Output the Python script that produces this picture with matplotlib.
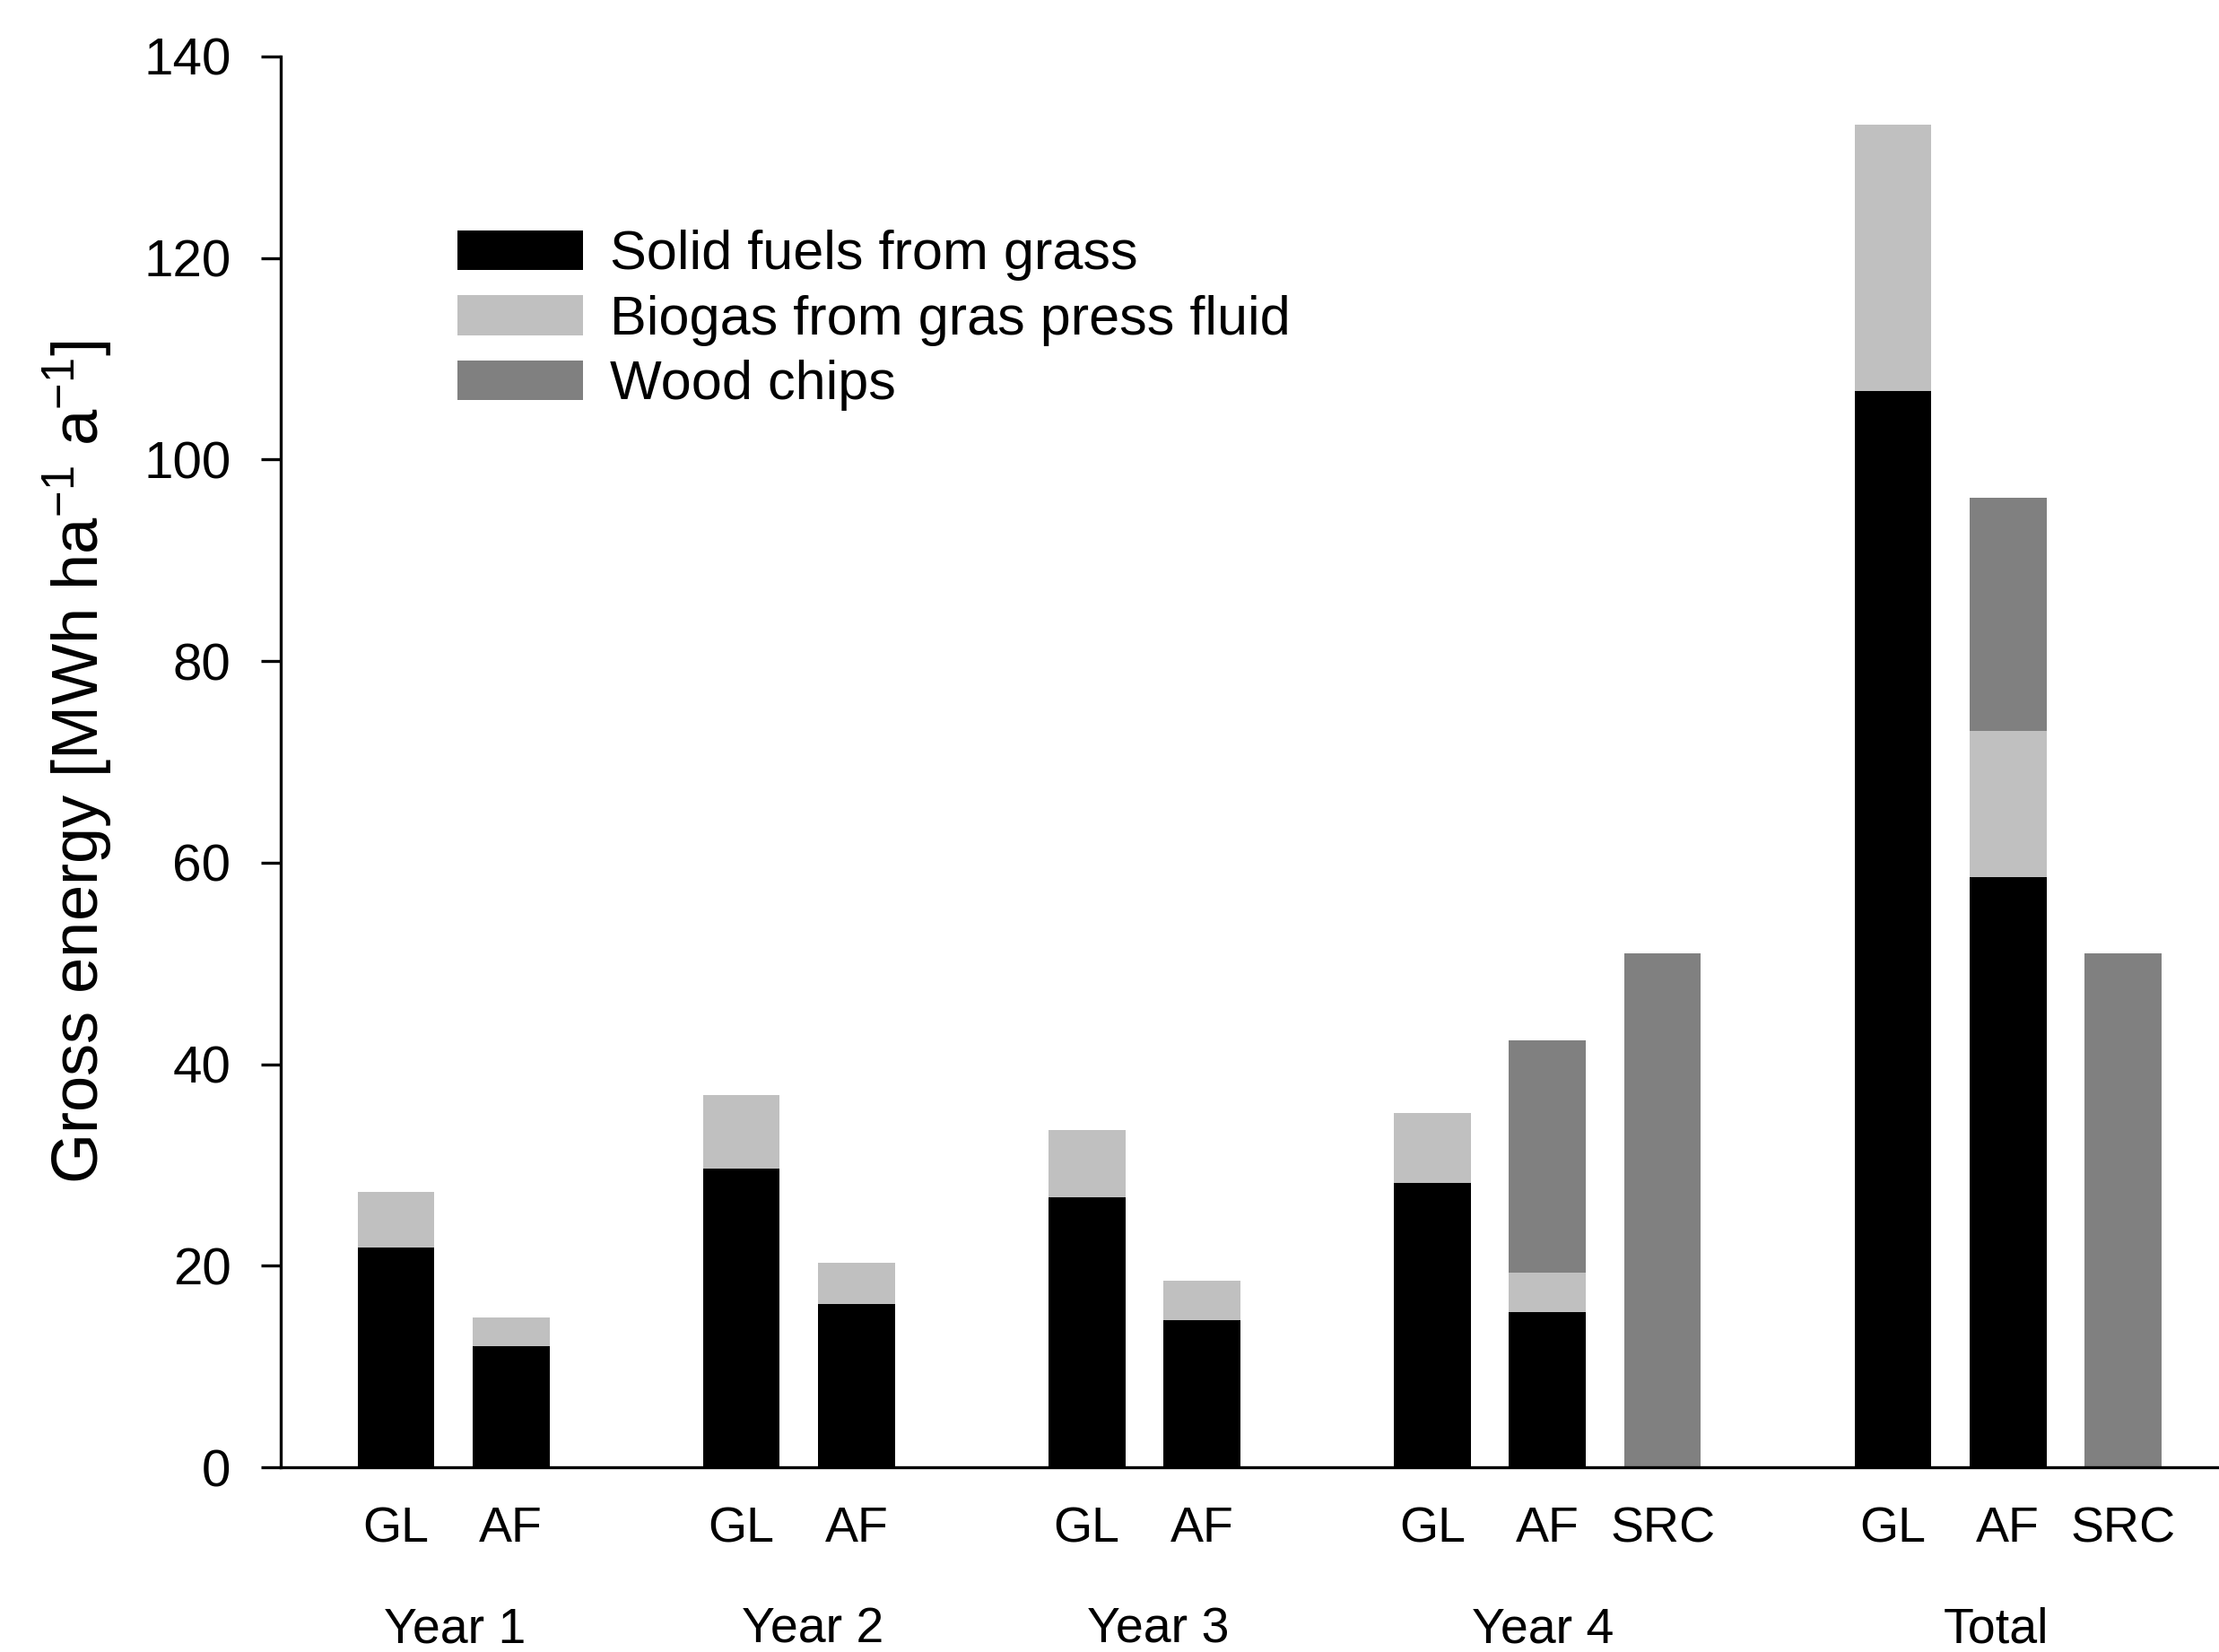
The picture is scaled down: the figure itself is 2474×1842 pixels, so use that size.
import numpy as np
import matplotlib
matplotlib.use("Agg")
import matplotlib.pyplot as plt

plt.rcParams['font.family'] = ['Liberation Sans', 'DejaVu Sans']
plt.rcParams['mathtext.fontset'] = 'custom'
plt.rcParams['mathtext.rm'] = 'Liberation Sans'
plt.rcParams['mathtext.it'] = 'Liberation Sans'

# bar positions and labels
x_pos = [0, 1, 3, 4, 6, 7, 9, 10, 11, 13, 14, 15]
bar_labels = ['GL', 'AF', 'GL', 'AF', 'GL', 'AF', 'GL', 'AF', 'SRC', 'GL', 'AF', 'SRC']
groups = ['Year 1', 'Year 2', 'Year 3', 'Year 4', 'Total']
group_pos = [0.51, 3.62, 6.62, 9.96, 13.90]

# values (MWh ha-1 a-1)
solid = [21.8, 12.0, 29.6, 16.2, 26.8, 14.6, 28.2, 15.4, 0.0, 106.8, 58.6, 0.0]
biogas = [5.5, 2.9, 7.3, 4.1, 6.7, 3.9, 7.0, 3.9, 0.0, 26.4, 14.5, 0.0]
wood = [0.0, 0.0, 0.0, 0.0, 0.0, 0.0, 0.0, 23.1, 51.0, 0.0, 23.1, 51.0]

series_names = ['Solid fuels from grass', 'Biogas from gras press fluid', 'Wood chips']
colors = ['#000000', '#c0c0c0', '#808080']

fig = plt.figure(figsize=(24.74, 18.42), dpi=100)
ax = fig.add_axes([0.1265, 0.1118, 0.876, 0.854])

solid = np.array(solid)
biogas = np.array(biogas)
wood = np.array(wood)
w = 0.667
b1 = ax.bar(x_pos, solid, w, color=colors[0], linewidth=0, label=series_names[0])
b2 = ax.bar(x_pos, biogas, w, bottom=solid, color=colors[1], linewidth=0, label=series_names[1])
b3 = ax.bar(x_pos, wood, w, bottom=solid + biogas, color=colors[2], linewidth=0, label=series_names[2])

ax.set_xlim(-1, 15.88)
ax.set_ylim(0, 140)
ax.set_yticks(np.arange(0, 141, 20))
ax.set_xticks([])
ax.spines['top'].set_visible(False)
ax.spines['right'].set_visible(False)
ax.spines['left'].set_linewidth(2.4)
ax.spines['bottom'].set_linewidth(2.4)
ax.tick_params(axis='y', direction='out', length=16, width=2.4, pad=24, labelsize=42)

ax.set_ylabel('Gross energy [MWh ha$^{-1}$ a$^{-1}$]', fontsize=52, labelpad=23)

trans = ax.get_xaxis_transform()
for xp, lab in zip(x_pos, bar_labels):
    ax.text(xp, -0.0528, lab, transform=trans, ha='center', va='baseline', fontsize=40)
for gp, g in zip(group_pos, groups):
    ax.text(gp, -0.124, g, transform=trans, ha='center', va='baseline', fontsize=40)

leg = ax.legend(handles=[b1, b2, b3], loc='upper left', bbox_to_anchor=(0.0908, 0.877),
                frameon=False, fontsize=44, handlelength=2.29, handleheight=0.74,
                handletextpad=0.49, labelspacing=0.25, borderpad=0, borderaxespad=0)

fig.savefig('out.png', dpi=100)
